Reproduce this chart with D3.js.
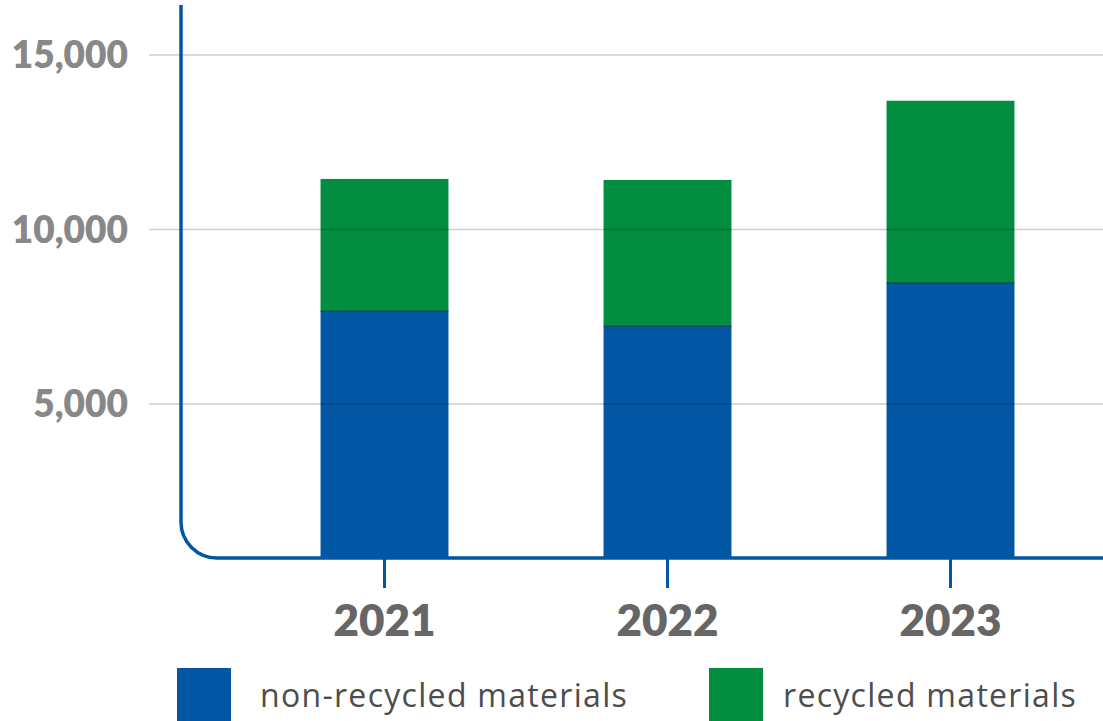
<!DOCTYPE html>
<html>
<head>
<meta charset="utf-8">
<script src="https://cdn.jsdelivr.net/npm/d3@7"></script>
<style>
  html, body { margin: 0; padding: 0; background: #fff; }
  svg { display: block; font-family: Lato, "Open Sans", sans-serif; }
</style>
</head>
<body>
<svg id="chart" width="1103" height="721"></svg>
<script>
// data
var years = ["2021", "2022", "2023"];
var nonRecycled = [7660, 7230, 8470];
var recycled = [3790, 4190, 5220];
var yTicks = [5000, 10000, 15000];
var seriesNames = ["non-recycled materials", "recycled materials"];
var seriesColors = ["#0157a4", "#038d40"];

var width = 1103, height = 721;
var svg = d3.select("#chart");

var rows = years.map(function (y, i) {
  return { year: y, non: nonRecycled[i], rec: recycled[i] };
});
var stack = d3.stack().keys(["non", "rec"])(rows);

var x = d3.scaleBand()
  .domain(years)
  .range([243, 1092])
  .paddingInner(0.548)
  .paddingOuter(0.274);

// the baseline sits a little above zero in the original
var y = d3.scaleLinear()
  .domain([620, 15000])
  .range([557, 55])
  .clamp(true);

var axisX = 181, baseY = 558, r = 36;

// bars
svg.append("g").selectAll("g")
  .data(stack)
  .enter().append("g")
  .attr("fill", function (d, i) { return seriesColors[i]; })
  .selectAll("rect")
  .data(function (d) { return d; })
  .enter().append("rect")
  .attr("x", function (d) { return x(d.data.year); })
  .attr("width", x.bandwidth())
  .attr("y", function (d) { return y(d[1]); })
  .attr("height", function (d) { return y(d[0]) - y(d[1]); });

// thin dark line at top of blue segment
svg.append("g").selectAll("line")
  .data(stack[0])
  .enter().append("line")
  .attr("x1", function (d) { return x(d.data.year); })
  .attr("x2", function (d) { return x(d.data.year) + x.bandwidth(); })
  .attr("y1", function (d) { return y(d[1]); })
  .attr("y2", function (d) { return y(d[1]); })
  .attr("stroke", "#0a2f55")
  .attr("stroke-width", 1);

// gridlines (on top, semi transparent)
svg.append("g").selectAll("line")
  .data(yTicks)
  .enter().append("line")
  .attr("x1", 149).attr("x2", width)
  .attr("y1", function (d) { return y(d); })
  .attr("y2", function (d) { return y(d); })
  .attr("stroke", "rgba(0,0,0,0.2)")
  .attr("stroke-width", 1.5);

// y labels
svg.append("g").selectAll("text")
  .data(yTicks)
  .enter().append("text")
  .attr("x", 128)
  .attr("y", function (d) { return y(d); })
  .attr("dy", "0.36em")
  .attr("text-anchor", "end")
  .attr("font-size", 37)
  .attr("font-weight", 800)
  .attr("fill", "#888")
  .text(function (d) { return d3.format(",")(d); });

// axis with rounded corner
svg.append("path")
  .attr("d", "M" + axisX + ",5 V" + (baseY - r) +
    " A" + r + "," + r + " 0 0 0 " + (axisX + r) + "," + baseY +
    " H" + width)
  .attr("fill", "none")
  .attr("stroke", "#0157a4")
  .attr("stroke-width", 3.5);

// x ticks
svg.append("g").selectAll("line")
  .data(years)
  .enter().append("line")
  .attr("x1", function (d) { return x(d) + x.bandwidth() / 2; })
  .attr("x2", function (d) { return x(d) + x.bandwidth() / 2; })
  .attr("y1", baseY).attr("y2", 588)
  .attr("stroke", "#0157a4")
  .attr("stroke-width", 3);

// x labels
svg.append("g").selectAll("text")
  .data(years)
  .enter().append("text")
  .attr("x", function (d) { return x(d) + x.bandwidth() / 2; })
  .attr("y", 636)
  .attr("text-anchor", "middle")
  .attr("font-size", 44)
  .attr("font-weight", 800)
  .attr("fill", "#666")
  .text(function (d) { return d; });

// legend
var legX = [177, 709];
var legTextDx = [83, 74];
var leg = svg.append("g").selectAll("g")
  .data(seriesNames)
  .enter().append("g")
  .attr("transform", function (d, i) { return "translate(" + legX[i] + ",668)"; });
leg.append("rect")
  .attr("width", 54).attr("height", 54)
  .attr("fill", function (d, i) { return seriesColors[i]; });
leg.append("text")
  .attr("x", function (d, i) { return legTextDx[i]; })
  .attr("y", 39)
  .attr("font-family", "'Open Sans', sans-serif")
  .attr("font-size", 32)
  .attr("letter-spacing", 1.3)
  .attr("fill", "#4d4d4d")
  .text(function (d) { return d; });
</script>
</body>
</html>
